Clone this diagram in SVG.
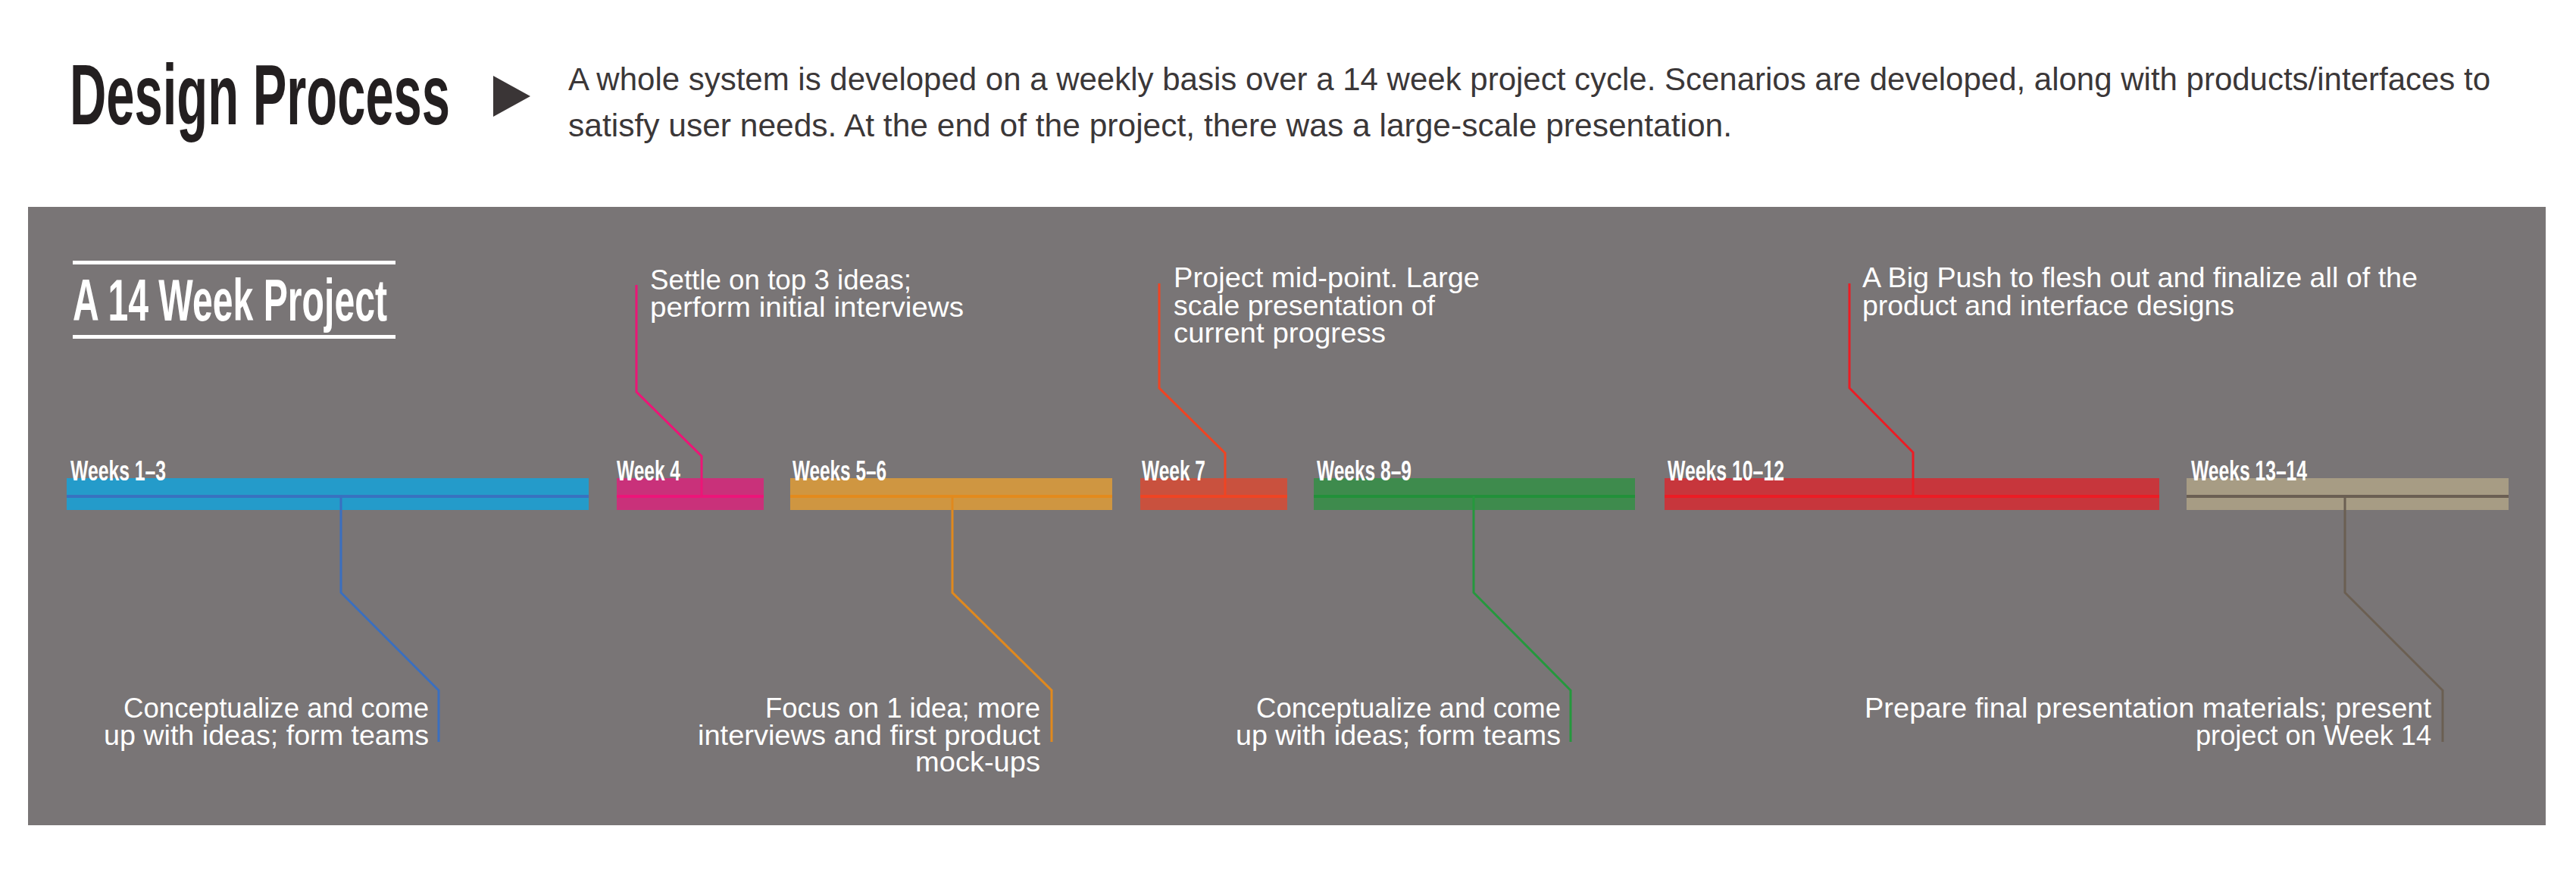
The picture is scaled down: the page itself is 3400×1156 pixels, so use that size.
<svg xmlns="http://www.w3.org/2000/svg" width="3400" height="1156" viewBox="0 0 3400 1156">
<style>
.title{font-family:"Liberation Sans",Arial,sans-serif;font-weight:bold;fill:#231f20}
.desc{font-family:"Liberation Sans",Arial,sans-serif;font-size:43px;fill:#3b3738}
.lbl{font-family:"Liberation Sans",Arial,sans-serif;font-weight:bold;font-size:36px;fill:#ffffff}
.ann{font-family:"Liberation Sans",Arial,sans-serif;font-size:36px;fill:#ffffff}
.r{text-anchor:end}
.con{fill:none;stroke-width:3;stroke-linejoin:miter}
</style>
<rect width="3400" height="1156" fill="#ffffff"/>
<g id="header">
<text class="title" transform="translate(92,164) scale(0.592,1)" x="0" y="0" font-size="113" textLength="848" lengthAdjust="spacingAndGlyphs">Design Process</text>
<polygon points="651,100 700,127 651,154" fill="#3a3536"/>
<text class="desc" x="750" y="119" textLength="2537" lengthAdjust="spacingAndGlyphs">A whole system is developed on a weekly basis over a 14 week project cycle. Scenarios are developed, along with products/interfaces to</text>
<text class="desc" x="750" y="180" textLength="1536" lengthAdjust="spacingAndGlyphs">satisfy user needs. At the end of the project, there was a large-scale presentation.</text>
</g>
<rect id="panel" x="37" y="273" width="3323" height="816" fill="#797576"/>
<g id="panel-title">
<rect x="96" y="344" width="426" height="5" fill="#ffffff"/>
<text class="title" transform="translate(96,423) scale(0.614,1)" x="0" y="0" font-size="78" style="fill:#ffffff" textLength="676" lengthAdjust="spacingAndGlyphs">A 14 Week Project</text>
<rect x="96" y="442" width="426" height="5" fill="#ffffff"/>
</g>
<g id="weeks-1-3">
<rect x="88" y="631" width="689" height="42" fill="#249bca"/>
<rect x="88" y="653" width="689" height="4" fill="#3872c0"/>
<text class="lbl" x="93" y="634" textLength="126" lengthAdjust="spacingAndGlyphs">Weeks 1–3</text>
<text class="ann r" x="566" y="947" textLength="403" lengthAdjust="spacingAndGlyphs">Conceptualize and come</text>
<text class="ann r" x="566" y="983" textLength="429" lengthAdjust="spacingAndGlyphs">up with ideas; form teams</text>
</g>
<g id="week-4">
<rect x="814" y="631" width="194" height="42" fill="#c9317a"/>
<rect x="814" y="653" width="194" height="4" fill="#ec1579"/>
<text class="lbl" x="814" y="634" textLength="84" lengthAdjust="spacingAndGlyphs">Week 4</text>
<text class="ann" x="858" y="382" textLength="345" lengthAdjust="spacingAndGlyphs">Settle on top 3 ideas;</text>
<text class="ann" x="858" y="418" textLength="414" lengthAdjust="spacingAndGlyphs">perform initial interviews</text>
</g>
<g id="weeks-5-6">
<rect x="1043" y="631" width="425" height="42" fill="#cf9641"/>
<rect x="1043" y="653" width="425" height="4" fill="#e38a1d"/>
<text class="lbl" x="1046" y="634" textLength="124" lengthAdjust="spacingAndGlyphs">Weeks 5–6</text>
<text class="ann r" x="1373" y="947" textLength="363" lengthAdjust="spacingAndGlyphs">Focus on 1 idea; more</text>
<text class="ann r" x="1373" y="983" textLength="452" lengthAdjust="spacingAndGlyphs">interviews and first product</text>
<text class="ann r" x="1373" y="1018" textLength="165" lengthAdjust="spacingAndGlyphs">mock-ups</text>
</g>
<g id="week-7">
<rect x="1505" y="631" width="194" height="42" fill="#c9513e"/>
<rect x="1505" y="653" width="194" height="4" fill="#ef4423"/>
<text class="lbl" x="1507" y="634" textLength="84" lengthAdjust="spacingAndGlyphs">Week 7</text>
<text class="ann" x="1549" y="379" textLength="404" lengthAdjust="spacingAndGlyphs">Project mid-point. Large</text>
<text class="ann" x="1549" y="416" textLength="345" lengthAdjust="spacingAndGlyphs">scale presentation of</text>
<text class="ann" x="1549" y="452" textLength="280" lengthAdjust="spacingAndGlyphs">current progress</text>
</g>
<g id="weeks-8-9">
<rect x="1734" y="631" width="424" height="42" fill="#3e8b4d"/>
<rect x="1734" y="653" width="424" height="4" fill="#22913a"/>
<text class="lbl" x="1738" y="634" textLength="125" lengthAdjust="spacingAndGlyphs">Weeks 8–9</text>
<text class="ann r" x="2060" y="947" textLength="402" lengthAdjust="spacingAndGlyphs">Conceptualize and come</text>
<text class="ann r" x="2060" y="983" textLength="429" lengthAdjust="spacingAndGlyphs">up with ideas; form teams</text>
</g>
<g id="weeks-10-12">
<rect x="2197" y="631" width="653" height="42" fill="#c7363c"/>
<rect x="2197" y="653" width="653" height="4" fill="#ec1c24"/>
<text class="lbl" x="2201" y="634" textLength="154" lengthAdjust="spacingAndGlyphs">Weeks 10–12</text>
<text class="ann" x="2458" y="379" textLength="733" lengthAdjust="spacingAndGlyphs">A Big Push to flesh out and finalize  all of the</text>
<text class="ann" x="2458" y="416" textLength="491" lengthAdjust="spacingAndGlyphs">product and interface designs</text>
</g>
<g id="weeks-13-14">
<rect x="2886" y="631" width="425" height="42" fill="#a79c84"/>
<rect x="2886" y="653" width="425" height="4" fill="#6b5f53"/>
<text class="lbl" x="2892" y="634" textLength="153" lengthAdjust="spacingAndGlyphs">Weeks 13–14</text>
<text class="ann r" x="3209" y="947" textLength="748" lengthAdjust="spacingAndGlyphs">Prepare final presentation materials; present</text>
<text class="ann r" x="3209" y="983" textLength="311" lengthAdjust="spacingAndGlyphs">project on Week 14</text>
</g>
<g id="connectors">
<polyline class="con" stroke="#ec1577" points="840,376 840,517 926,602 926,655"/>
<polyline class="con" stroke="#ef4423" points="1530,374 1530,512 1617,598 1617,655"/>
<polyline class="con" stroke="#ec1c24" points="2441,374 2441,512 2525,597 2525,655"/>
<polyline class="con" stroke="#3a6fc0" points="450,655 450,782 579,911 579,979"/>
<polyline class="con" stroke="#e0891e" points="1257,655 1257,782 1388,911 1388,979"/>
<polyline class="con" stroke="#25983d" points="1945,655 1945,782 2073,911 2073,979"/>
<polyline class="con" stroke="#6b5f52" points="3095,655 3095,782 3224,911 3224,979"/>
</g>
</svg>
